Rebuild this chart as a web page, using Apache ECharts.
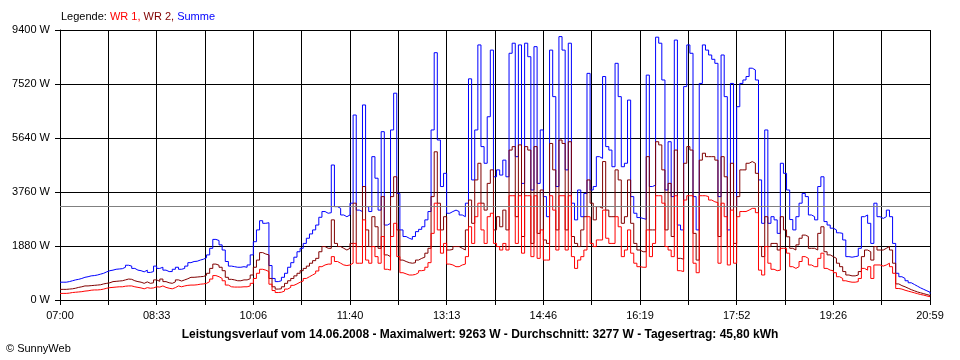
<!DOCTYPE html>
<html>
<head>
<meta charset="utf-8">
<script src="https://cdn.jsdelivr.net/npm/echarts@6/dist/echarts.min.js"></script>
<style>
html,body{margin:0;padding:0;background:#fff;}
#chart{width:960px;height:360px;}
</style>
</head>
<body>
<div id="chart"></div>
<script>
// Time span: 07:00 .. 20:59 (839 minutes), evenly spaced readings
const spanMinutes = 839;
const tickLabels = ['07:00','08:33','10:06','11:40','13:13','14:46','16:19','17:52','19:26','20:59'];
const avgValue = 3277;

const summe = [
620,620,640,670,700,720,750,790,810,840,
850,870,900,930,980,1020,1040,1070,1080,1090,
1140,1210,1180,1100,1040,1020,980,1040,960,990,
1180,1100,1140,1040,990,990,1070,1140,1070,1100,
1180,1300,1340,1350,1390,1420,1470,1570,1800,2110,
2070,1920,1740,1340,1180,1160,1140,1140,1160,1140,
1220,1570,2030,2440,2760,2670,2690,1200,750,640,
670,790,930,1140,1300,1490,1680,1800,1970,2150,
2300,2440,2610,2880,3080,3020,3040,4700,3250,3190,
2960,2900,2960,3370,6440,3130,3080,6790,3250,3080,
4990,4240,3130,5860,2610,2670,5920,7200,3710,2440,
2210,2150,2110,2210,2380,2460,2550,2790,3080,5920,
8610,5570,3950,4410,3020,3080,3130,3080,2960,2900,
3370,7700,4180,5920,8880,5340,4760,6380,8700,4290,
4530,4350,4870,4290,8590,8940,4990,8880,4060,8940,
8470,3830,8820,4060,5920,3600,2900,8700,7080,3950,
9170,8700,4530,8940,3370,2790,3830,2900,3710,7890,
3830,3950,4990,4930,7780,5340,5220,4640,8240,7080,
4640,4760,6960,3600,3020,2870,2840,2810,7830,3950,
4000,9150,8940,7660,3830,5510,3600,9050,2610,2440,
7430,8880,8590,3600,2440,7540,8880,8700,8530,8380,
8240,3600,8530,7080,2440,7540,3250,6730,7540,7660,
7780,8070,8010,7660,4180,2670,5920,2670,2900,2790,
2320,4760,4410,3830,2800,2440,2900,3370,3710,3600,
2960,2900,2790,3950,4290,2730,2610,2500,2440,2340,
2320,2090,1510,1490,1510,1530,1800,2900,2960,2670,
1970,3370,2900,2840,2900,3130,2900,1970,930,810,
750,670,600,540,480,420,370,320,270,220
];

const wr2 = [
370,370,380,390,410,440,460,490,490,500,
510,520,530,560,580,600,640,650,660,670,
700,730,720,670,640,620,580,630,580,600,
700,650,730,640,600,580,630,700,660,700,
740,790,790,800,810,820,860,930,1100,1250,
1210,1140,1020,790,720,700,670,670,700,700,
740,870,1140,1390,1650,1600,1570,750,460,380,
390,460,580,670,750,840,930,1020,1100,1180,
1280,1370,1450,1680,1860,1800,1800,2790,1970,1860,
1800,1740,1800,1970,3370,1860,1860,3950,2440,1860,
2900,2550,1800,3600,1570,1510,3600,4290,2440,1390,
1340,1300,1280,1300,1390,1450,1490,1630,1800,3600,
5160,3370,2440,2900,1740,1760,1860,1860,1800,1740,
2440,3480,2670,4180,4760,3370,3130,4060,4530,2440,
2900,2550,3130,2440,5220,5340,2900,5400,2210,5340,
5220,1970,5340,2320,3830,2090,1970,5450,4530,2440,
5570,5450,2440,5510,2210,1970,1860,2440,2900,4180,
3370,2790,3250,3190,4820,3130,2900,2900,4530,4180,
2670,2900,4180,2670,1970,1740,1680,1680,4990,2440,
2440,5510,5400,4530,2440,4060,2210,5220,1450,1420,
4760,5340,5220,2320,1390,4870,5110,4990,4990,4990,
4870,2210,4990,4290,1860,4760,1970,3600,4530,4530,
4760,4820,4760,4410,1860,1510,2900,1860,1970,1970,
1740,2900,2440,2200,1800,1740,1920,2150,2260,2210,
1800,1800,1740,2320,2550,1680,1570,1510,1450,1280,
1160,990,870,840,840,870,990,1510,1740,1680,
1390,1860,1740,1740,1800,1860,1740,1280,560,500,
460,410,360,320,280,250,220,190,160,130
];

const wr1 = [
230,230,240,260,270,280,290,310,320,340,
350,350,360,380,410,430,440,450,460,460,
480,490,490,460,440,420,390,430,410,420,
460,450,490,440,410,390,430,490,460,490,
510,520,520,530,550,560,580,640,730,850,
810,750,670,520,460,450,450,450,460,460,
490,580,750,930,1070,1040,990,550,330,260,
270,310,380,440,510,560,620,660,750,810,
870,930,1010,1160,1220,1250,1250,1510,1340,1280,
1220,1200,1220,1280,1970,1280,1280,2790,1390,1280,
1860,1510,1280,2210,1070,1040,2210,2670,1510,950,
910,870,870,890,950,1020,1040,1140,1300,2320,
3370,2440,1630,1970,1250,1220,1160,1160,1220,1250,
1510,2550,1970,2900,3370,2440,1970,2900,3020,1970,
1860,1740,1970,1740,3630,3630,1970,3630,1630,3630,
3630,1510,3630,1450,2440,1390,1390,3630,3130,1740,
3630,3630,1740,3630,1510,1100,1390,1510,1740,2900,
1970,1860,2090,2090,3130,2150,1970,1970,2900,2550,
1510,1740,2440,1630,1280,1160,1140,1140,2440,1510,
1970,3630,3630,3370,1860,1740,1510,3630,1020,990,
3480,3630,3630,1280,950,3630,3630,3600,3480,3420,
3390,1280,3370,2900,1220,3130,1280,2900,3080,3080,
3130,3190,3190,3040,1040,870,1860,1280,1070,1020,
1040,1800,1800,1630,1160,1100,1160,1340,1510,1450,
1220,1160,1160,1450,1630,1100,1040,1020,950,810,
750,670,640,620,620,640,750,1100,1040,1160,
750,1220,1220,1180,1220,1280,1160,930,400,380,
340,310,280,250,220,190,170,140,115,95
];

const n = summe.length;
const stepMin = spanMinutes / (n - 1);
function pairs(arr){ return arr.map((v,i)=>[i*stepMin, v]); }

const FONT = '"Liberation Sans", Arial, sans-serif';
const chart = echarts.init(document.getElementById('chart'), null, {renderer:'canvas'});
const option = {
  animation:false,
  backgroundColor:'#ffffff',
  grid:{left:60,right:30,top:30,bottom:60,containLabel:false},
  xAxis:[
    {type:'value',min:0,max:spanMinutes,show:false},
    {type:'value',min:0,max:18,interval:1,position:'bottom',
      axisLine:{show:true,lineStyle:{color:'#000',width:1}},
      axisTick:{show:true,length:5,lineStyle:{color:'#000',width:1}},
      splitLine:{show:true,lineStyle:{color:'#000',width:1}},
      axisLabel:{margin:10,color:'#000',fontFamily:FONT,fontSize:11,
        formatter:function(v){const k=Math.round(v);return k%2===0?tickLabels[k/2]:'';}}
    }
  ],
  yAxis:{type:'value',min:0,max:9400,interval:1880,
    axisLine:{show:true,lineStyle:{color:'#000',width:1}},
    axisTick:{show:true,length:5,lineStyle:{color:'#000',width:1}},
    splitLine:{show:true,lineStyle:{color:'#000',width:1}},
    axisLabel:{margin:10,color:'#000',fontFamily:FONT,fontSize:11,
      formatter:function(v){return v+' W';}}
  },
  series:[
    {name:'Summe',type:'line',xAxisIndex:0,data:pairs(summe),step:'end',showSymbol:false,
      lineStyle:{color:'#0000ff',width:1},itemStyle:{color:'#0000ff'}},
    {name:'WR 2',type:'line',xAxisIndex:0,data:pairs(wr2),step:'end',showSymbol:false,
      lineStyle:{color:'#800000',width:1},itemStyle:{color:'#800000'}},
    {name:'WR 1',type:'line',xAxisIndex:0,data:pairs(wr1),step:'end',showSymbol:false,
      lineStyle:{color:'#ff0000',width:1},itemStyle:{color:'#ff0000'},
      markLine:{silent:true,symbol:['none','none'],label:{show:false},
        lineStyle:{color:'#808080',width:1,type:'solid'},
        data:[{yAxis:avgValue}]}}
  ],
  graphic:[
    {type:'text',left:61,top:11,style:{
      text:'{k|Legende: }{a|WR 1, }{b|WR 2, }{c|Summe}',
      font:'11px '+FONT,
      rich:{k:{fill:'#000',font:'11px '+FONT},a:{fill:'#ff0000',font:'11px '+FONT},
            b:{fill:'#800000',font:'11px '+FONT},c:{fill:'#0000ff',font:'11px '+FONT}}}},
    {type:'text',left:'center',top:329,style:{
      text:'Leistungsverlauf vom 14.06.2008 - Maximalwert: 9263 W - Durchschnitt: 3277 W - Tagesertrag: 45,80 kWh',
      font:'bold 12px '+FONT,fill:'#000'}},
    {type:'text',left:6,top:343,style:{text:'\u00A9 SunnyWeb',font:'11px '+FONT,fill:'#000'}}
  ]
};
chart.setOption(option);
</script>
</body>
</html>
